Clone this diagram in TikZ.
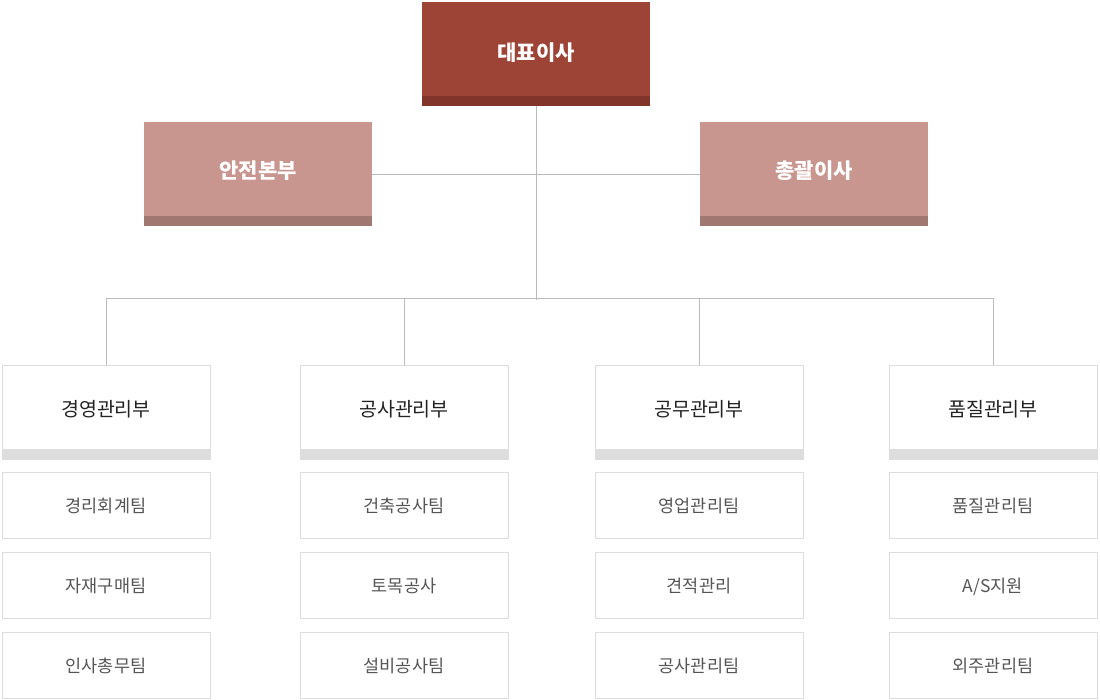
\documentclass[tikz,border=0pt]{standalone}
\usepackage{fontspec}
\setmainfont{Noto Sans CJK KR}
\usepackage{tikz}
\usetikzlibrary{positioning}

\definecolor{ceofill}{HTML}{9D4437}
\definecolor{ceostrip}{HTML}{80342A}
\definecolor{subfill}{HTML}{C9968F}
\definecolor{substrip}{HTML}{A17871}
\definecolor{boxline}{HTML}{DDDDDD}
\definecolor{linkline}{HTML}{BBBBBB}
\definecolor{depttext}{HTML}{222222}
\definecolor{teamtext}{HTML}{555555}

\begin{document}
\begin{tikzpicture}[x=1pt, y=-1pt,
            strip/.style={path picture={\fill[#1] (path picture bounding box.south west) rectangle ([yshift=10pt]path picture bounding box.south east);}}, % bottom band
            topbox/.style={minimum width=228pt, minimum height=104pt, inner sep=0pt, text height=16pt, text depth=3pt, fill=ceofill, strip=ceostrip, text=white, font=\fontsize{21}{24}\selectfont\bfseries}, % head box
            subbox/.style={topbox, text height=14pt, text depth=6pt, fill=subfill, strip=substrip}, % second row
            deptbox/.style={minimum width=208pt, minimum height=94pt, inner sep=0pt, draw=boxline, line width=1pt, text height=14pt, text depth=5pt, strip=boxline, text=depttext, font=\fontsize{19.5}{22}\selectfont}, % department
            teambox/.style={minimum width=208pt, minimum height=66pt, inner sep=0pt, draw=boxline, line width=1pt, text height=15pt, text depth=1pt, text=teamtext, font=\fontsize{17.5}{20}\selectfont}, % team
            link/.style={draw=linkline, line width=1pt} % connector
            ]
        \useasboundingbox (0,0) rectangle (1100,699);

            % Top of the chart
            \node[topbox] (ceo) at (536,53.5) {대표이사};
            \node[subbox] (safety) at (258,174) {안전본부};
            \node[subbox] (general) at (814,174) {총괄이사};

            % Departments
            \node[deptbox] (mgmt) at (106,412) {경영관리부};
            \node[deptbox] (const) at (404,412) {공사관리부};
            \node[deptbox] (works) at (699,412) {공무관리부};
            \node[deptbox] (qual) at (993,412) {품질관리부};

            % Teams
            \node[teambox] (m1) at (106,505) {경리회계팀};
            \node[teambox] (m2) at (106,585) {자재구매팀};
            \node[teambox] (m3) at (106,665) {인사총무팀};
            \node[teambox] (c1) at (404,505) {건축공사팀};
            \node[teambox] (c2) at (404,585) {토목공사};
            \node[teambox] (c3) at (404,665) {설비공사팀};
            \node[teambox] (w1) at (699,505) {영업관리팀};
            \node[teambox] (w2) at (699,585) {견적관리};
            \node[teambox] (w3) at (699,665) {공사관리팀};
            \node[teambox] (q1) at (993,505) {품질관리팀};
            \node[teambox] (q2) at (993,585) {A/S지원};
            \node[teambox] (q3) at (993,665) {외주관리팀};

            % Connectors
            \coordinate (hub) at (536,300);
            \coordinate (bar) at (536,298);
            \draw[link] (ceo.south) -- (hub);
            \draw[link] (safety.east) -- (general.west);
            \draw[link] (mgmt.north) -- (mgmt.north |- bar) -- (qual.north |- bar) -- (qual.north);
            \draw[link] (const.north) -- (const.north |- bar);
            \draw[link] (works.north) -- (works.north |- bar);

        \end{tikzpicture}
\end{document}
